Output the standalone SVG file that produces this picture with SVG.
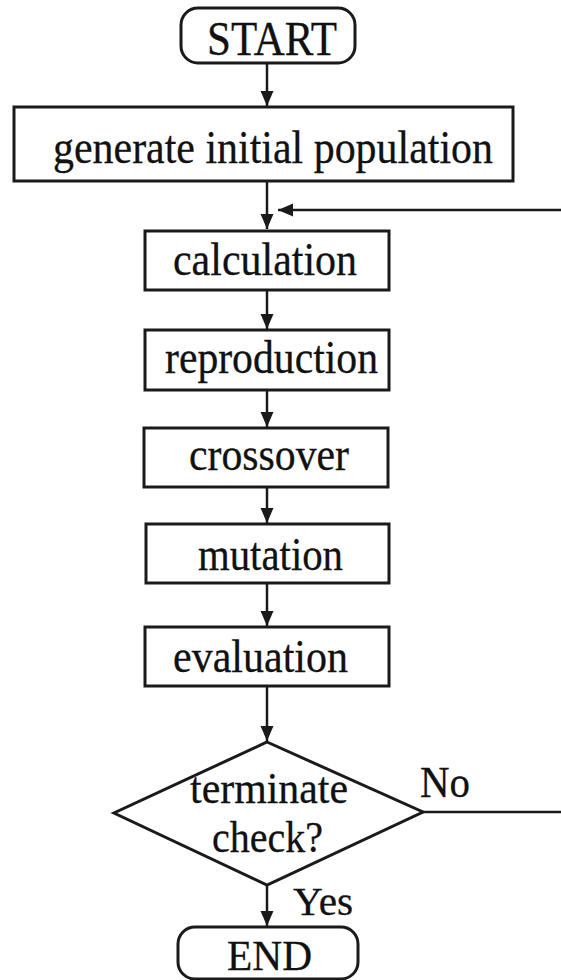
<svg xmlns="http://www.w3.org/2000/svg" width="561" height="980" viewBox="0 0 561 980">
  <style>
    .box { fill: #fff; stroke: #1a1a1a; stroke-width: 3; }
    .lbl { font-family: "Liberation Serif", "Times New Roman", serif; font-size: 46px; fill: #111; stroke: #111; stroke-width: 0.3; }
    .wire { fill: none; stroke: #1a1a1a; stroke-width: 2.5; }
  </style>
  <defs>
    <marker id="arrow" markerUnits="userSpaceOnUse" markerWidth="15" markerHeight="14" viewBox="0 0 15 14" refX="15" refY="6.5" orient="auto">
      <path d="M0,0 L15,6.5 L0,13 Z" fill="#1a1a1a"/>
    </marker>
  </defs>

  <rect width="561" height="980" fill="#fff"/>

  <!-- connectors -->
  <g id="connectors">
    <line class="wire" x1="267" y1="63" x2="267" y2="106" marker-end="url(#arrow)"/>
    <line class="wire" x1="267" y1="182" x2="267" y2="229" marker-end="url(#arrow)"/>
    <line class="wire" x1="561" y1="210" x2="278" y2="210" marker-end="url(#arrow)"/>
    <line class="wire" x1="267" y1="291" x2="267" y2="329" marker-end="url(#arrow)"/>
    <line class="wire" x1="267" y1="391" x2="267" y2="427" marker-end="url(#arrow)"/>
    <line class="wire" x1="267" y1="488" x2="267" y2="523" marker-end="url(#arrow)"/>
    <line class="wire" x1="267" y1="584" x2="267" y2="626" marker-end="url(#arrow)"/>
    <line class="wire" x1="267" y1="687" x2="267" y2="741" marker-end="url(#arrow)"/>
    <line class="wire" x1="423" y1="812" x2="561" y2="812"/>
    <line class="wire" x1="267" y1="885" x2="267" y2="926" marker-end="url(#arrow)"/>
    <text class="lbl" x="420" y="797" textLength="50" lengthAdjust="spacingAndGlyphs" style="font-size:44px">No</text>
    <text class="lbl" x="293" y="915" textLength="60" lengthAdjust="spacingAndGlyphs" style="font-size:40px">Yes</text>
  </g>

  <g id="start">
    <rect class="box" x="181" y="8" width="174" height="55" rx="17"/>
    <text class="lbl" x="207" y="55" textLength="130" lengthAdjust="spacingAndGlyphs" style="font-size:48px">START</text>
  </g>

  <g id="init">
    <rect class="box" x="14" y="107" width="499" height="74"/>
    <text class="lbl" x="53" y="163" textLength="440" lengthAdjust="spacingAndGlyphs" style="font-size:47px">generate initial population</text>
  </g>

  <g id="calculation">
    <rect class="box" x="145" y="231" width="244" height="59"/>
    <text class="lbl" x="173" y="275" textLength="184" lengthAdjust="spacingAndGlyphs">calculation</text>
  </g>

  <g id="reproduction">
    <rect class="box" x="145" y="330" width="244" height="60"/>
    <text class="lbl" x="165" y="373" textLength="213" lengthAdjust="spacingAndGlyphs">reproduction</text>
  </g>

  <g id="crossover">
    <rect class="box" x="144" y="428" width="244" height="59"/>
    <text class="lbl" x="189" y="470" textLength="160" lengthAdjust="spacingAndGlyphs">crossover</text>
  </g>

  <g id="mutation">
    <rect class="box" x="146" y="524" width="243" height="59"/>
    <text class="lbl" x="198" y="570" textLength="145" lengthAdjust="spacingAndGlyphs">mutation</text>
  </g>

  <g id="evaluation">
    <rect class="box" x="145" y="627" width="244" height="59"/>
    <text class="lbl" x="173" y="672" textLength="175" lengthAdjust="spacingAndGlyphs">evaluation</text>
  </g>

  <g id="check">
    <polygon class="box" points="267,742 423,812 267,885 114,813"/>
    <text class="lbl" x="190" y="803" textLength="158" lengthAdjust="spacingAndGlyphs" style="font-size:44px">terminate</text>
    <text class="lbl" x="212" y="852" textLength="111" lengthAdjust="spacingAndGlyphs" style="font-size:44px">check?</text>
  </g>

  <g id="end">
    <rect class="box" x="178" y="927" width="180" height="52" rx="17"/>
    <text class="lbl" x="227" y="970" textLength="85" lengthAdjust="spacingAndGlyphs" style="font-size:42px">END</text>
  </g>
</svg>
